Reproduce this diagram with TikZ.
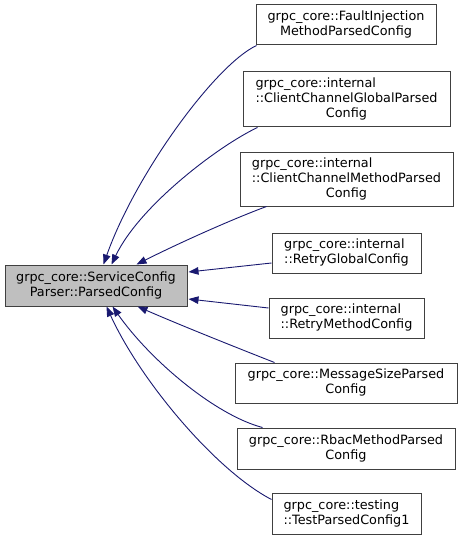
\documentclass[tikz,border=0pt]{standalone}
\usepackage{fontspec}
\setmainfont{DejaVu Sans}
\usetikzlibrary{arrows.meta,calc}
\definecolor{edgeblue}{HTML}{191970}
\definecolor{boxline}{HTML}{404040}
\definecolor{mainfill}{HTML}{BFBFBF}
\begin{document}
\begin{tikzpicture}[x=1pt,y=-1pt,
  cls/.style={draw=boxline, line width=1pt, fill=white, inner sep=0pt,
    font=\fontsize{12.8}{15}\selectfont},
  basecls/.style={cls, fill=mainfill},
  inh/.style={draw=edgeblue, line width=0.9pt,
    -{Triangle[length=10pt,width=7.5pt,fill=edgeblue]}}]
\useasboundingbox (0,0) rectangle (463,540);

\node[basecls, minimum width=182pt, minimum height=41pt] (main) at (96,285.5)
  {\begin{tabular}{@{}c@{}}grpc\_core::ServiceConfig\\Parser::ParsedConfig\end{tabular}};

\node[cls, minimum width=180pt, minimum height=40pt] (fault) at (346,25)
  {\begin{tabular}{@{}c@{}}grpc\_core::FaultInjection\\MethodParsedConfig\end{tabular}};
\node[cls, minimum width=207pt, minimum height=55pt] (ccg) at (346.5,99.5)
  {\begin{tabular}{@{}l@{}}grpc\_core::internal\\::ClientChannelGlobalParsed\\\multicolumn{1}{@{}c@{}}{Config}\end{tabular}};
\node[cls, minimum width=213pt, minimum height=53pt] (ccm) at (346.5,179.5)
  {\begin{tabular}{@{}l@{}}grpc\_core::internal\\::ClientChannelMethodParsed\\\multicolumn{1}{@{}c@{}}{Config}\end{tabular}};
\node[cls, minimum width=149pt, minimum height=40pt] (rg) at (346.5,253)
  {\begin{tabular}{@{}l@{}}grpc\_core::internal\\::RetryGlobalConfig\end{tabular}};
\node[cls, minimum width=155pt, minimum height=40pt] (rm) at (346.5,318)
  {\begin{tabular}{@{}l@{}}grpc\_core::internal\\::RetryMethodConfig\end{tabular}};
\node[cls, minimum width=222pt, minimum height=40pt] (ms) at (346,383)
  {\begin{tabular}{@{}c@{}}grpc\_core::MessageSizeParsed\\Config\end{tabular}};
\node[cls, minimum width=218pt, minimum height=41pt] (rbac) at (346,448.5)
  {\begin{tabular}{@{}c@{}}grpc\_core::RbacMethodParsed\\Config\end{tabular}};
\node[cls, minimum width=149pt, minimum height=41pt] (test) at (346.5,513.5)
  {\begin{tabular}{@{}l@{}}grpc\_core::testing\\::TestParsedConfig1\end{tabular}};

\draw[inh] ($(fault.south west)+(1,0)$) .. controls (215,65) and (135,175) .. ($(main.north west)+(99,0)$);
\draw[inh] ($(ccg.south west)+(15,0)$) .. controls (220,145) and (140,205) .. ($(main.north west)+(107,0)$);
\draw[inh] ($(ccm.south west)+(27,0)$) .. controls (230,220) and (175,245) .. ($(main.north west)+(132,0)$);
\draw[inh] ($(rg.west)+(0,10)$) -- ($(main.east)+(1,-13.5)$);
\draw[inh] ($(rm.west)+(0,-10)$) -- ($(main.east)+(1,13.5)$);
\draw[inh] ($(ms.north west)+(40,0)$) .. controls (230,345) and (180,325) .. ($(main.south west)+(133,0)$);
\draw[inh] ($(rbac.north west)+(26,0)$) .. controls (215,415) and (150,360) .. ($(main.south west)+(108,0)$);
\draw[inh] ($(test.west)+(0,-14)$) .. controls (215,470) and (140,380) .. ($(main.south west)+(102,0)$);
\end{tikzpicture}
\end{document}
